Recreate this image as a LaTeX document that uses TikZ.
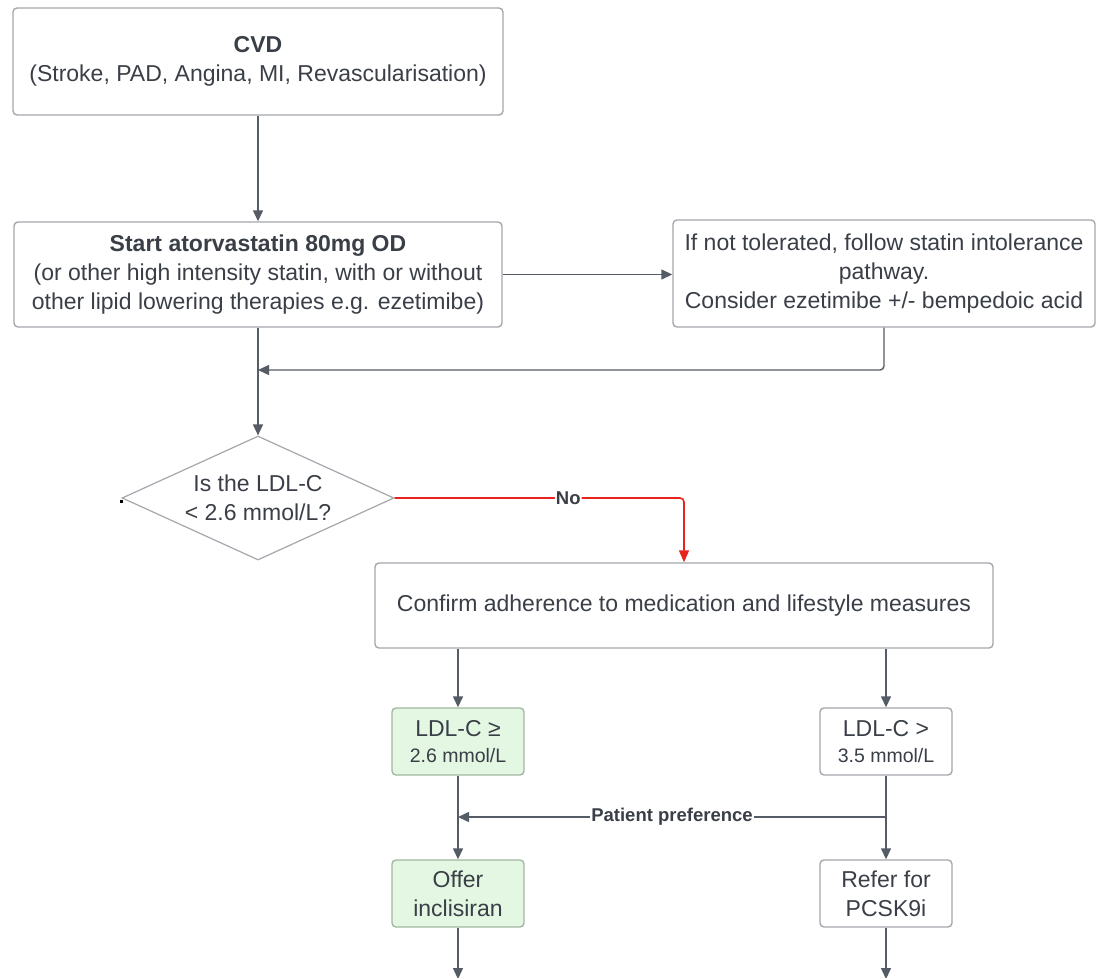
\documentclass[tikz,border=0pt]{standalone}
\usepackage{fontspec}
\setmainfont{Liberation Sans}
\usetikzlibrary{arrows.meta,shapes.geometric}
\definecolor{txt}{HTML}{3A3F47}
\definecolor{boxline}{HTML}{A4A7AC}
\definecolor{wire}{HTML}{565C65}
\definecolor{noline}{HTML}{E8231F}
\definecolor{okfill}{HTML}{E3F7E2}
\definecolor{okline}{HTML}{A2B8A0}
\definecolor{pin}{HTML}{3DBB4A}
\begin{document}
\begin{tikzpicture}[x=1pt,y=-1pt,
  base/.style={text=txt, align=center, inner sep=0pt,
    font=\fontsize{23}{29}\selectfont},
  box/.style={base, draw=boxline, line width=1.4pt, rounded corners=4pt, fill=white},
  okbox/.style={box, fill=okfill, draw=okline},
  decision/.style={base, diamond, aspect=2.2, draw=boxline, line width=1.2pt, fill=white},
  conn/.style={draw=wire, line width=1.4pt, -{Triangle[width=10pt,length=11pt]}},
  noconn/.style={draw=noline, line width=1.6pt, rounded corners=4pt, -{Triangle[width=10pt,length=12pt]}},
  tag/.style={fill=white, inner sep=1pt, text=txt, font=\fontsize{18.5}{20}\selectfont\bfseries},
  small/.style={font=\fontsize{19.5}{24}\selectfont}
]
\useasboundingbox[fill=white] (0,0) rectangle (1097,977);

% boxes
\node[box, minimum width=490pt, minimum height=107pt] (cvd) at (258,61.5)
  {\textbf{CVD}\\(Stroke, PAD, Angina, MI, Revascularisation)};
\node[box, minimum width=488pt, minimum height=105pt] (start) at (258,274.5)
  {\textbf{Start atorvastatin 80mg OD}\\(or other high intensity statin, with or without\\other lipid lowering therapies e.g. ezetimibe)};
\node[box, minimum width=422pt, minimum height=107pt] (intol) at (884,273.5)
  {If not tolerated, follow statin intolerance\\pathway.\\Consider ezetimibe +/- bempedoic acid};
\node[decision, minimum width=272pt, minimum height=124pt] (dec) at (258,498)
  {Is the LDL-C\\< 2.6 mmol/L?};
\node[box, minimum width=618pt, minimum height=85pt] (confirm) at (684,605.5)
  {Confirm adherence to medication and lifestyle measures};
\node[okbox, minimum width=132pt, minimum height=67pt] (ldla) at (458,741.5)
  {LDL-C ≥\\[-3pt]{\fontsize{19.5}{24}\selectfont 2.6 mmol/L}};
\node[box, minimum width=132pt, minimum height=67pt] (ldlb) at (886,741.5)
  {LDL-C >\\[-3pt]{\fontsize{19.5}{24}\selectfont 3.5 mmol/L}};
\node[okbox, minimum width=132pt, minimum height=67pt] (offer) at (458,893.5)
  {Offer\\inclisiran};
\node[box, minimum width=132pt, minimum height=67pt] (refer) at (886,893.5)
  {Refer for\\PCSK9i};

% junctions and free ends
\coordinate (merge) at (258,370);
\coordinate (pp) at (886,817);
\coordinate (ppend) at (458,817);
\coordinate (enda) at (458,979);
\coordinate (endb) at (886,979);

% connectors
\draw[conn] (cvd.south) -- (start.north);
\draw[conn] (start.east) -- (start.east -| intol.west);
\draw[conn, rounded corners=4pt] (intol.south) |- (merge);
\draw[conn] (start.south) -- (dec.north);
\draw[noconn] (dec.east) -| (confirm.north)
  node[tag, pos=0.3] {No};
\draw[conn] (confirm.south -| ldla.north) -- (ldla.north);
\draw[conn] (confirm.south -| ldlb.north) -- (ldlb.north);
\draw[conn] (ldla.south) -- (offer.north);
\draw[conn] (ldlb.south) -- (refer.north);
\draw[conn] (pp) -- (ppend) node[tag, pos=0.5] {Patient preference};
\draw[conn] (offer.south) -- (enda);
\draw[conn] (refer.south) -- (endb);

% connection point marker on the decision
\fill[pin] ([xshift=-1pt,yshift=-1.5pt]dec.west) rectangle ++(3,3);
\end{tikzpicture}
\end{document}
